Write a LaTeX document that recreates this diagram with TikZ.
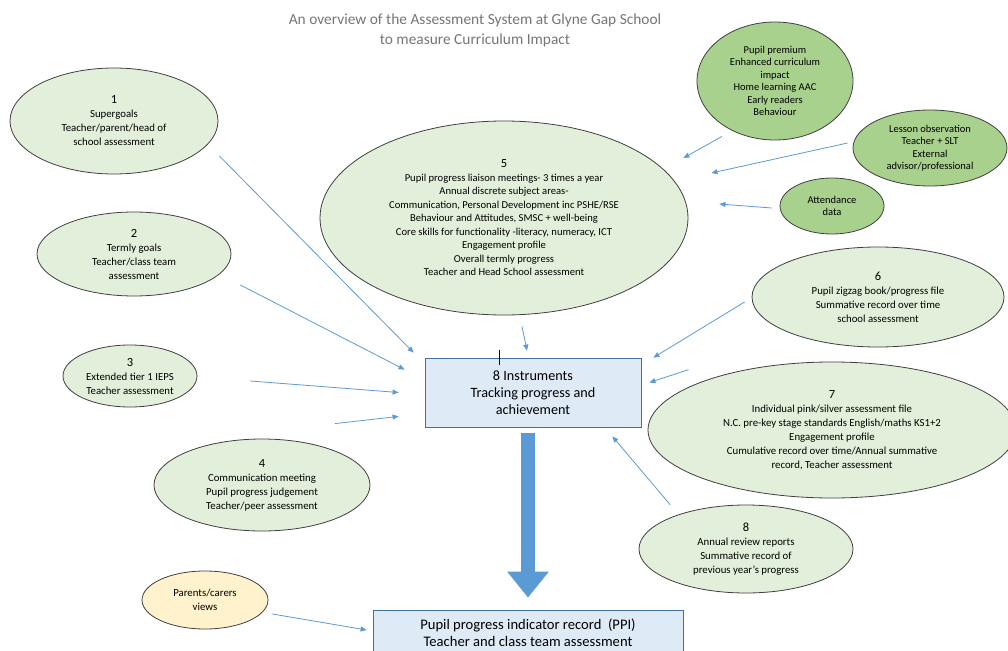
\documentclass[tikz,border=0pt]{standalone}
\usepackage{fontspec}
\setmainfont{Carlito}
\usetikzlibrary{
  arrows.meta,
  positioning,
  shapes.geometric
}
\definecolor{palegreen}{RGB}{226,239,218}
\definecolor{midgreen}{RGB}{169,209,142}
\definecolor{parentfill}{RGB}{255,242,204}
\definecolor{boxblue}{RGB}{222,235,247}
\definecolor{edgeblue}{RGB}{65,113,156}
\definecolor{linkblue}{RGB}{91,155,213}
\definecolor{rim}{RGB}{64,64,64}
\definecolor{titlegray}{RGB}{118,118,118}
\newcommand{\ellnum}[1]{{\fontsize{12.5}{14}\selectfont #1}}

\begin{document}
\begin{tikzpicture}[
  x=1pt, y=-1pt,
  every node/.style={inner sep=0pt, align=center, text=black},
  goal/.style={ellipse, draw=rim, line width=0.8pt, fill=palegreen,
               font=\fontsize{10.8}{14}\selectfont},
  extra/.style={ellipse, draw=rim, line width=0.8pt, fill=midgreen,
                font=\fontsize{10.5}{12.5}\selectfont},
  hubbox/.style={draw=edgeblue, line width=0.8pt, fill=boxblue},
  link/.style={draw=linkblue, line width=0.8pt, -{Triangle[length=6pt,width=5pt]}},
  bigarrow/.style={draw=linkblue, line width=14pt, -{Triangle[width=40pt,length=26pt]}}
]
\useasboundingbox (0,0) rectangle (1008,650);
\clip (0,0) rectangle (1008,650);
\fill[white] (0,0) rectangle (1008,650);

% ── Title ──
\node[font=\fontsize{15.4}{20}\selectfont, text=titlegray] (title) at (475,30)
  {An overview of the Assessment System at Glyne Gap School\\to measure Curriculum Impact};

% ── Left instruments ──
\node[goal, minimum width=208pt, minimum height=106pt] (super) at (114,121)
  {\ellnum{1}\\Supergoals\\Teacher/parent/head of\\school assessment};
\node[goal, minimum width=194pt, minimum height=84pt] (termly) at (134,254)
  {\ellnum{2}\\Termly goals\\Teacher/class team\\assessment};
\node[goal, minimum width=134pt, minimum height=62pt] (ieps) at (130,376)
  {\ellnum{3}\\Extended tier 1 IEPS\\Teacher assessment};
\node[goal, minimum width=216pt, minimum height=92pt] (comms) at (262,485)
  {\ellnum{4}\\Communication meeting\\Pupil progress judgement\\Teacher/peer assessment};

% ── Liaison meetings ──
\node[goal, minimum width=368pt, minimum height=194pt, font=\fontsize{10.6}{13.5}\selectfont] (liaison) at (504,218)
  {\ellnum{5}\\Pupil progress liaison meetings- 3 times a year\\Annual discrete subject areas-\\
   Communication, Personal Development inc PSHE/RSE\\Behaviour and Attitudes, SMSC + well-being\\
   Core skills for functionality -literacy, numeracy, ICT\\Engagement profile\\
   Overall termly progress\\Teacher and Head School assessment};

% ── Extra evidence ──
\node[extra, minimum width=156pt, minimum height=118pt] (premium) at (775,81)
  {Pupil premium\\Enhanced curriculum\\impact\\Home learning AAC\\Early readers\\Behaviour};
\node[extra, minimum width=154pt, minimum height=76pt] (lesson) at (930,148)
  {Lesson observation\\Teacher + SLT\\External\\advisor/professional};
\node[extra, minimum width=104pt, minimum height=56pt] (attend) at (832,206)
  {Attendance\\data};

% ── Right instruments ──
\node[goal, minimum width=252pt, minimum height=100pt] (zigzag) at (878,297)
  {\ellnum{6}\\Pupil zigzag book/progress file\\Summative record over time\\school assessment};
\node[goal, minimum width=368pt, minimum height=136pt] (pinkfile) at (832,430)
  {\ellnum{7}\\Individual pink/silver assessment file\\N.C. pre-key stage standards English/maths KS1+2\\
   Engagement profile\\Cumulative record over time/Annual summative\\record, Teacher assessment};
\node[goal, minimum width=214pt, minimum height=88pt] (review) at (746,549)
  {\ellnum{8}\\Annual review reports\\Summative record of\\previous year’s progress};

% ── Parents ──
\node[ellipse, draw=rim, line width=0.8pt, fill=parentfill, font=\fontsize{10.8}{14}\selectfont,
      minimum width=126pt, minimum height=58pt] (parents) at (205,600)
  {Parents/carers\\views};

% ── Boxes ──
\node[hubbox, minimum width=216pt, minimum height=69pt, font=\fontsize{14.2}{17}\selectfont] (tracker) at (533,392.5)
  {8 Instruments\\Tracking progress and\\achievement};
\node[hubbox, minimum width=310pt, minimum height=46pt, font=\fontsize{14.6}{17}\selectfont] (ppi) at (528,633)
  {Pupil progress indicator record~~(PPI)\\Teacher and class team assessment};

\draw[line width=0.6pt] ([shift={(-34,-8)}]tracker.north) -- ++(0,15);

% ── Arrows into the tracker ──
\draw[link] ([shift={(1,35)}]super.east) -- ([shift={(-11,-5)}]tracker.north west);
\draw[link] ([shift={(9,31)}]termly.east) -- ([shift={(-20,12)}]tracker.north west);
\draw[link] ([shift={(53,5)}]ieps.east) -- ([shift={(-26,0)}]tracker.west);
\draw[link] ([shift={(73,-15)}]comms.north) -- ([shift={(-26,-11)}]tracker.south west);
\draw[link] ([shift={(18,11)}]liaison.south) -- ([shift={(-6,-7)}]tracker.north);
\draw[link] ([shift={(-7,5)}]zigzag.west) -- ([shift={(12,0)}]tracker.north east);
\draw[link] ([shift={(-13,-12)}]pinkfile.north west) -- ([shift={(8,-10)}]tracker.east);
\draw[link] ([shift={(0,-13)}]review.north west) -- ([shift={(-29,9)}]tracker.south east);

% ── Arrows into the liaison meetings ──
\draw[link] ([shift={(-53,-4)}]premium.south) -- ([shift={(-5,-60)}]liaison.east);
\draw[link] ([shift={(-5,-5)}]lesson.west) -- ([shift={(23,-45)}]liaison.east);
\draw[link] ([shift={(-8,2)}]attend.west) -- ([shift={(31,-14)}]liaison.east);

% ── Into the PPI ──
\draw[link] ([shift={(4,14)}]parents.east) -- ([shift={(-6,-3)}]ppi.west);
\draw[bigarrow, shorten <=6pt, shorten >=12pt] (tracker.south -| ppi.north) -- (ppi.north);

\end{tikzpicture}
\end{document}
